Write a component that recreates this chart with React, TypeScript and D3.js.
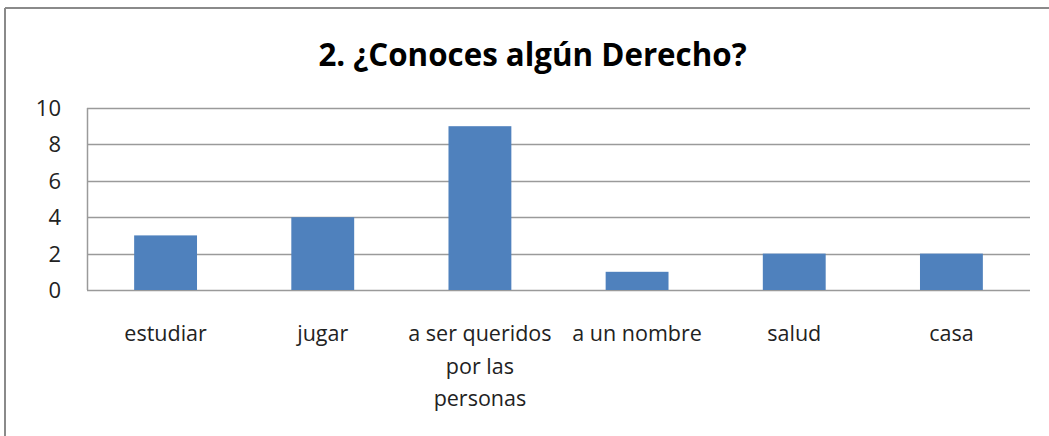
import React from "react";
import * as d3 from "d3";

const categories: string[] = ["estudiar", "jugar", "a ser queridos por las personas", "a un nombre", "salud", "casa"];
const labelLines: string[][] = [["estudiar"], ["jugar"], ["a ser queridos", "por las", "personas"], ["a un nombre"], ["salud"], ["casa"]];
const values: number[] = [3, 4, 9, 1, 2, 2];
const yTicks: number[] = [0, 2, 4, 6, 8, 10];
const title = "2. ¿Conoces algún Derecho?";

const W = 1049;
const H = 436;
const plot = { left: 87, right: 1030, top: 108, bottom: 290 };

export default function App() {
  const x = d3
    .scaleBand<string>()
    .domain(categories)
    .range([plot.left, plot.right])
    .paddingInner(0.6)
    .paddingOuter(0.3);
  const y = d3.scaleLinear().domain([0, 10]).range([plot.bottom, plot.top]);
  const font = "'Open Sans', sans-serif";

  return (
    <svg
      width={W}
      height={H}
      style={{ position: "absolute", left: 0, top: 0, background: "#fff" }}
    >
      <rect x={0} y={0} width={W} height={H} fill="#fff" />
      {/* outer frame */}
      <line x1={5} y1={8} x2={W} y2={8} stroke="#8a8a8a" strokeWidth={2} />
      <line x1={5} y1={8} x2={5} y2={H} stroke="#8a8a8a" strokeWidth={2} />
      <text
        x={532.5}
        y={66}
        textAnchor="middle"
        fontFamily={font}
        fontWeight="bold"
        fontSize={31.3}
        fill="#000"
      >
        {title}
      </text>
      {/* gridlines */}
      {yTicks.map((t) => (
        <line
          key={t}
          x1={plot.left}
          x2={plot.right}
          y1={Math.round(y(t)) + 0.5}
          y2={Math.round(y(t)) + 0.5}
          stroke="#9a9a9a"
          strokeWidth={1.5}
        />
      ))}
      <line
        x1={plot.left + 0.5}
        x2={plot.left + 0.5}
        y1={plot.top}
        y2={plot.bottom}
        stroke="#9a9a9a"
        strokeWidth={1.5}
      />
      {yTicks.map((t) => (
        <text
          key={"l" + t}
          x={61}
          y={y(t)}
          dy="0.36em"
          textAnchor="end"
          fontFamily={font}
          fontSize={22}
          fill="#222"
        >
          {t}
        </text>
      ))}
      {categories.map((c, i) => (
        <rect
          key={c}
          x={x(c)}
          y={y(values[i])}
          width={x.bandwidth()}
          height={y(0) - y(values[i])}
          fill="#4F81BD"
        />
      ))}
      {categories.map((c, i) => {
        const cx = (x(c) as number) + x.bandwidth() / 2;
        return (
          <text
            key={"c" + c}
            x={cx}
            y={341}
            textAnchor="middle"
            fontFamily={font}
            fontSize={21.5}
            fill="#222"
          >
            {labelLines[i].map((ln, j) => (
              <tspan key={j} x={cx} dy={j === 0 ? 0 : 32.5}>
                {ln}
              </tspan>
            ))}
          </text>
        );
      })}
    </svg>
  );
}
